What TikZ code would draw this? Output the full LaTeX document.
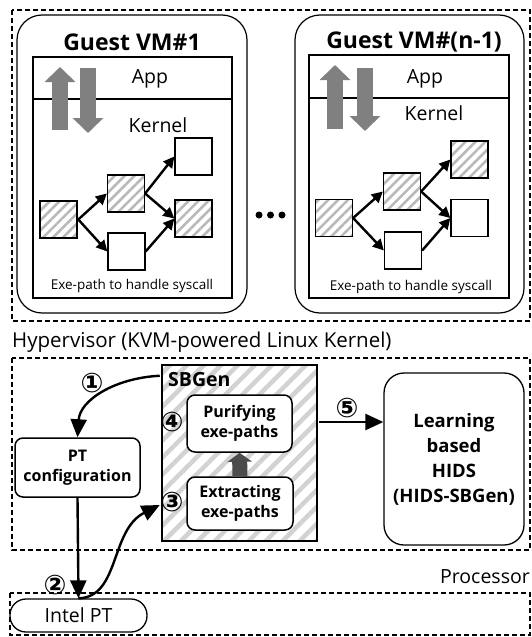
\documentclass[tikz,border=0pt]{standalone}
\usepackage{fontspec}
\setmainfont{Open Sans}
\newfontfamily\circfont{DejaVu Sans}
\usetikzlibrary{arrows.meta,patterns.meta}

\begin{document}
\begin{tikzpicture}[x=1pt,y=-1pt,
  layer/.style={draw,dash pattern=on 5pt off 3pt,line width=1.1pt},
  vmbox/.style={draw,line width=1.2pt,rounded corners=25pt,inner sep=0pt},
  blk/.style={draw,line width=1.3pt,minimum size=37pt,inner sep=0pt},
  hatched/.style={pattern={Lines[angle=45,distance=7pt,line width=2.6pt]},pattern color=gray!55},
  smallarrow/.style={line width=2.4pt,-{Triangle[length=11pt,width=11pt]}},
  bigarrow/.style={line width=2.4pt,-{Triangle[length=18pt,width=16pt]}},
  grayup/.style={line width=16pt,draw=gray!100,-{Triangle[length=15pt,width=30pt]}},
  procbox/.style={draw,line width=1.5pt,rounded corners=8pt,fill=white,align=center,
    font=\bfseries\fontsize{16}{20}\selectfont,inner sep=0pt},
  label/.style={font=\fontsize{19.5}{20}\selectfont},
  title/.style={font=\bfseries\fontsize{23}{23}\selectfont},
  pathtext/.style={font=\fontsize{13.5}{14}\selectfont},
  num/.style={font=\circfont\bfseries\fontsize{27}{27}\selectfont,inner sep=0pt}]
\useasboundingbox (0,0) rectangle (532,637);

% layers
\draw [layer] (12,10) rectangle (530,321);
\draw [layer] (12,358) rectangle (530,550);
\draw [layer] (10,593) rectangle (530,635);
\path (12,342) node (hyper) [label,anchor=west,inner sep=0pt,font=\fontsize{20.5}{21}\selectfont] {Hypervisor (KVM-powered Linux Kernel)};
\path (530,577) node (proc) [label,anchor=east,inner sep=0pt] {Processor};

% guest VM #1
\path (132,164) node (vma) [vmbox,minimum width=230pt,minimum height=298pt] {};
\path (132,42) node (vmatitle) [title] {Guest VM\#1};
\draw [line width=1.2pt] (33,57) rectangle (232,298);
\draw [line width=1.2pt] (33,99) -- (232,99);
\path (150,79) node (appa) [label] {App};
\path (158,125) node (kera) [label] {Kernel};
\coordinate (ua1) at (60,130); \coordinate (ua2) at (60,67);
\coordinate (da1) at (88,68); \coordinate (da2) at (88,133);
\draw [grayup] (ua1) -- (ua2);
\draw [grayup] (da1) -- (da2);
\path (58.5,219.5) node (a1) [blk,hatched] {};
\path (126,193.5) node (b1) [blk,hatched] {};
\path (193.5,156.5) node (c1) [blk] {};
\path (193.5,218.5) node (d1) [blk,hatched] {};
\path (126.5,251.5) node (e1) [blk] {};
\draw [smallarrow] (a1.east) to (b1.west);
\draw [smallarrow] (a1.east) to (e1.west);
\draw [smallarrow] (b1.east) to (c1.west);
\draw [smallarrow] (b1.east) to (d1.west);
\draw [smallarrow] (e1.east) to (d1.west);
\path (132,286) node (pa) [pathtext] {Exe-path to handle syscall};

% dots
\foreach \x in {259,270.5,282} \fill (\x,215) circle (3.5pt);

% guest VM #(n-1)
\path (409.5,164) node (vmb) [vmbox,minimum width=229pt,minimum height=298pt] {};
\path (414,42) node (vmbtitle) [title] {Guest VM\#(n-1)};
\draw [line width=1.2pt] (309,55) rectangle (509,298);
\draw [line width=1.2pt] (309,98) -- (509,98);
\path (425,79) node (appb) [label] {App};
\path (434,113) node (kerb) [label] {Kernel};
\coordinate (ub1) at (335,129); \coordinate (ub2) at (335,65);
\coordinate (db1) at (365,68); \coordinate (db2) at (365,131);
\draw [grayup] (ub1) -- (ub2);
\draw [grayup] (db1) -- (db2);
\path (334,218) node (a2) [blk,hatched] {};
\path (402,191.5) node (b2) [blk,hatched] {};
\path (469.5,159.5) node (c2) [blk,hatched] {};
\path (469.5,218) node (d2) [blk] {};
\path (403,250.5) node (e2) [blk] {};
\draw [smallarrow] (a2.east) to (b2.west);
\draw [smallarrow] (a2.east) to (e2.west);
\draw [smallarrow] (b2.east) to (c2.west);
\draw [smallarrow] (b2.east) to (d2.west);
\draw [smallarrow] (e2.east) to (d2.west);
\path (411,287) node (pb) [pathtext] {Exe-path to handle syscall};

% SBGen
\path (239.5,453) node (sbgen) [draw,line width=2pt,minimum width=155pt,minimum height=176pt,inner sep=0pt,
  pattern={Lines[angle=45,distance=12pt,line width=4.5pt]},pattern color=gray!35] {};
\path (168,380) node (sbtitle) [anchor=west,inner sep=0pt,font=\bfseries\fontsize{19.5}{20}\selectfont] {SBGen};
\path (239.5,423.5) node (purify) [procbox,minimum width=105pt,minimum height=57pt] {Purifying\\exe-paths};
\path (240,503.5) node (extract) [procbox,minimum width=106pt,minimum height=53pt] {Extracting\\exe-paths};
\draw [line width=15pt,draw=gray!60!black,-{Triangle[length=9pt,width=24pt]}] (extract.north) -- (purify.south);
\path (172,422) node (n4) [num] {④};
\path (172,502) node (n3) [num] {③};

% PT configuration, Intel PT, HIDS
\path (77.5,467.5) node (ptconf) [procbox,minimum width=125pt,minimum height=59pt] {PT\\configuration};
\path (78.5,615.5) node (intel) [label,draw,line width=1.3pt,rounded corners=16pt,minimum width=137pt,minimum height=33pt,
  inner sep=0pt] {Intel PT};
\path (454,459) node (hids) [draw,line width=1.3pt,rounded corners=20pt,minimum width=140pt,minimum height=172pt,
  align=center,font=\bfseries\fontsize{18.5}{25}\selectfont] {Learning\\based\\HIDS\\(HIDS-SBGen)};

\coordinate (s1) at ([yshift=-13pt]sbgen.north west);
\coordinate (s3) at ([yshift=-52pt]sbgen.west);
\coordinate (s5) at ([yshift=31pt]sbgen.east);
\draw [bigarrow] (s1) .. controls (115,378) and (80,400) .. (ptconf.north);
\draw [bigarrow] (ptconf.south) -- (intel.north);
\draw [bigarrow] (intel.north) .. controls (120,597) and (110,530) .. (s3);
\draw [bigarrow] (s5) -- (s5 -| hids.west);
\path (92,383) node (n1) [num] {①};
\path (55,585) node (n2) [num] {②};
\path (347,408) node (n5) [num] {⑤};
\end{tikzpicture}
\end{document}
